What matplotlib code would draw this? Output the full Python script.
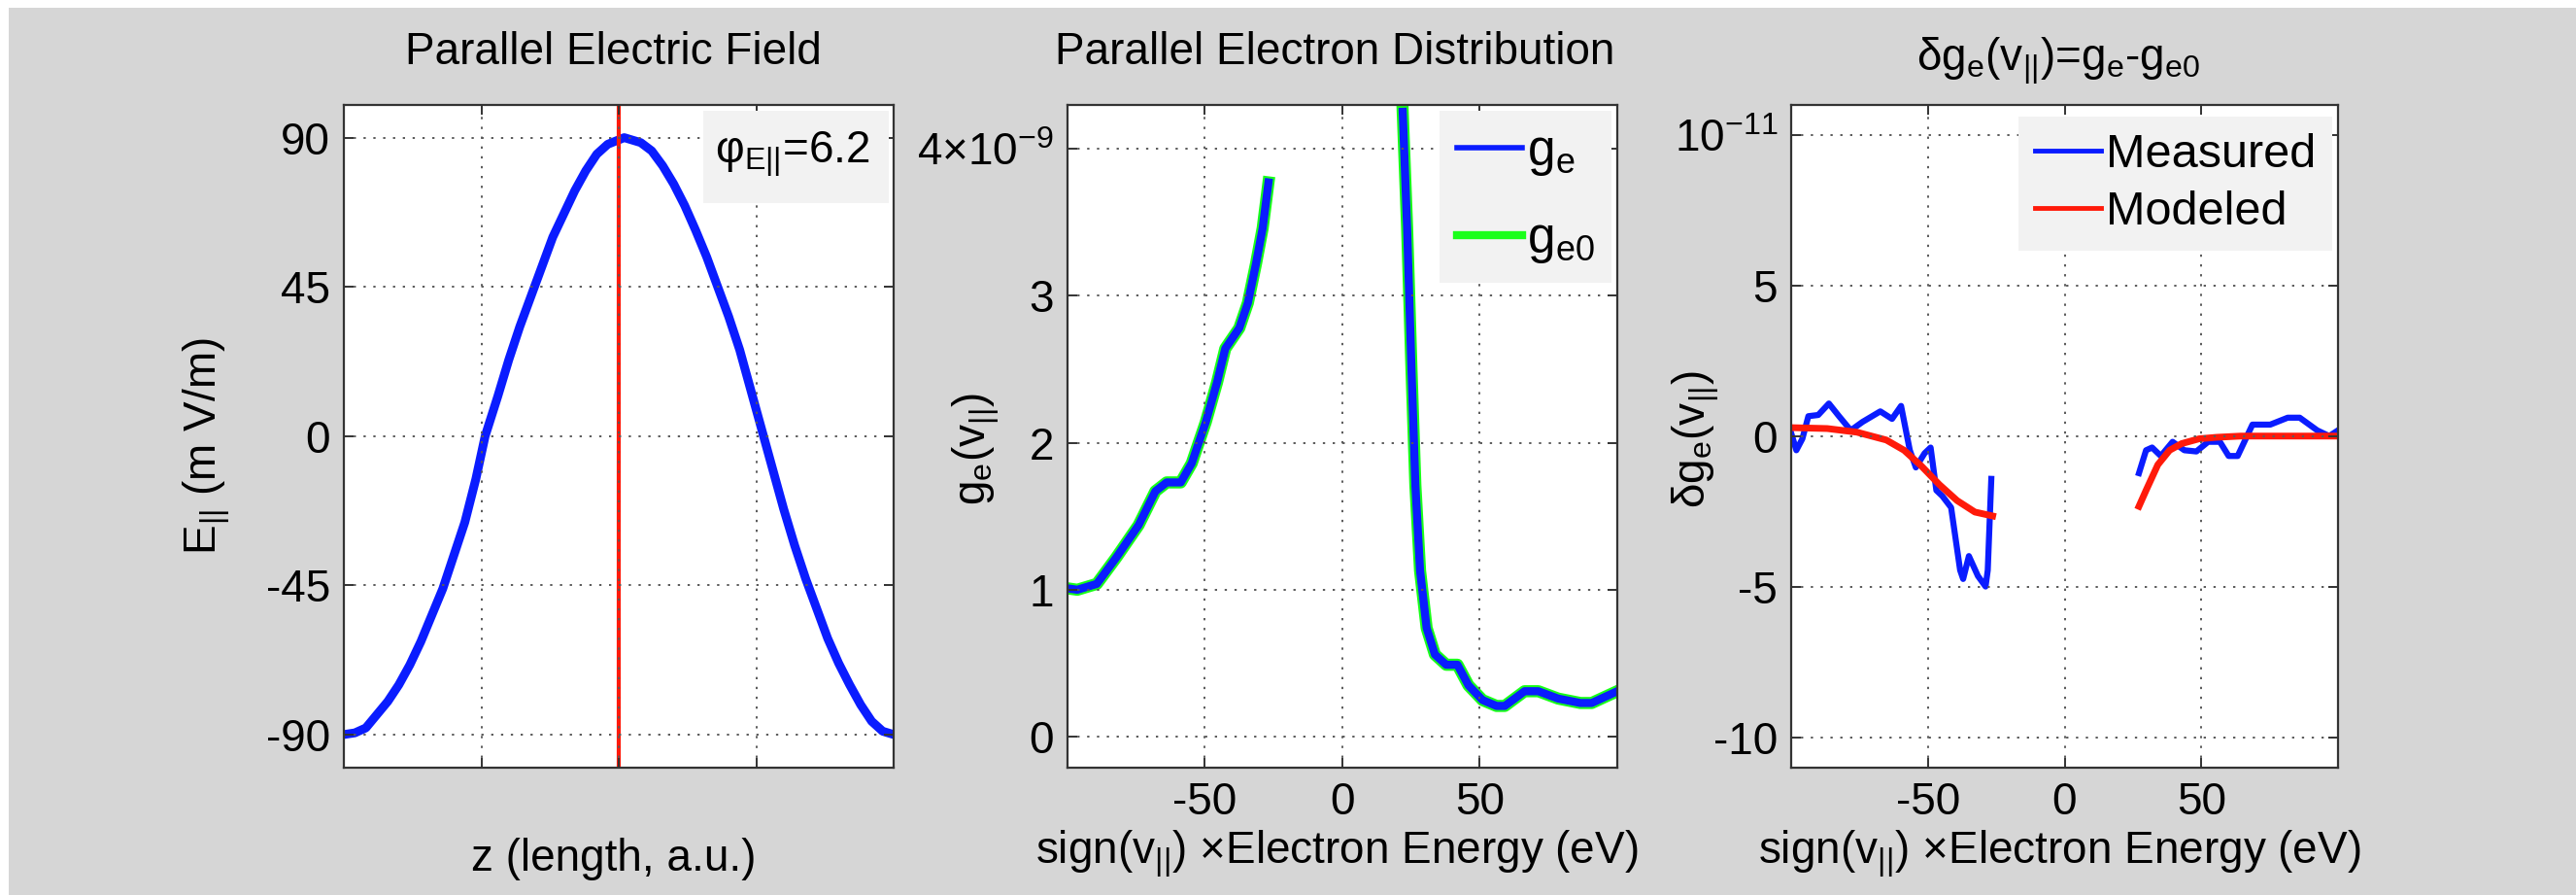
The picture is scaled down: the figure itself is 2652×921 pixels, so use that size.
import numpy as np
import matplotlib
matplotlib.use('Agg')
import matplotlib.pyplot as plt
from matplotlib.patches import Rectangle
from matplotlib.lines import Line2D

plt.rcParams['font.family'] = ['Liberation Sans', 'DejaVu Sans']
plt.rcParams['mathtext.default'] = 'regular'
plt.rcParams['axes.unicode_minus'] = False

# parallel electric field along the wave (arbitrary length units)
z_pos = [0, 0.02, 0.04, 0.06, 0.08, 0.10, 0.12, 0.14, 0.16, 0.18, 0.20, 0.22, 0.24,
         0.257, 0.28, 0.30, 0.32, 0.34, 0.36, 0.38, 0.40, 0.42, 0.44, 0.46, 0.48,
         0.51, 0.54, 0.56, 0.58, 0.60, 0.62, 0.64, 0.66, 0.68, 0.70, 0.72, 0.74,
         0.76, 0.78, 0.80, 0.82, 0.84, 0.86, 0.88, 0.90, 0.92, 0.94, 0.96, 0.98, 1.0]
e_par = [-90, -89.5, -88, -84, -80, -75, -69, -62, -54, -46, -36, -26, -13,
         0, 12, 23, 33, 42, 51, 60, 67, 74, 80, 85, 88,
         90, 88.5, 86, 81.5, 76, 69.5, 62, 54, 45, 36, 26, 14,
         2, -10, -22, -33, -43, -52, -61, -68.5, -75, -81, -86, -89, -90]
z_phase = 0.5
phi_label = r'$\varphi_{E||}$=6.2'

# reduced parallel distribution, negative and positive energy branches
en_neg = [-100, -96.3, -89.2, -82.1, -74, -67.9, -63.8, -58.7, -54.7, -49.6, -45.5,
          -42.5, -37.4, -34.3, -31.3, -28.9, -26.8]
ge_neg = [1.01, 1.0, 1.04, 1.22, 1.44, 1.67, 1.73, 1.73, 1.86, 2.14, 2.41,
          2.64, 2.78, 2.95, 3.22, 3.46, 3.77]
en_pos = [22, 23.6, 25.2, 26.6, 28.3, 30.7, 33.7, 37.8, 41.9, 45.9, 51, 56.1,
          59.1, 66.3, 71.3, 78.5, 86.6, 90.7, 100]
ge_pos = [4.25, 3.46, 2.49, 1.71, 1.13, 0.74, 0.56, 0.49, 0.49, 0.35, 0.25, 0.21,
          0.21, 0.31, 0.31, 0.26, 0.23, 0.23, 0.31]
ge0_neg = ge_neg
ge0_pos = ge_pos

# perturbation dg = g_e - g_e0, measured
dm_en_neg = [-100, -98.1, -95.9, -93.7, -90.1, -86.2, -82.5, -78.2, -73.9, -67.4,
             -63.1, -59.8, -56.6, -54.4, -51.2, -49, -46.9, -44.7, -41.5, -38.2,
             -37.1, -35, -31.7, -28.9, -28.1, -26.8]
dm_neg = [0.1, -0.47, -0.09, 0.66, 0.7, 1.08, 0.66, 0.19, 0.47, 0.82,
          0.57, 1.0, -0.47, -1.04, -0.57, -0.38, -1.8, -1.99, -2.37, -4.45,
          -4.74, -3.98, -4.64, -4.99, -4.45, -1.42]
dm_en_pos = [27.2, 29.8, 32, 35.2, 39.5, 43.8, 48.2, 52.5, 56.8, 60, 63.3, 68.7,
             75.2, 81.6, 86, 92.4, 96.8, 100]
dm_pos = [-1.23, -0.47, -0.38, -0.66, -0.19, -0.47, -0.51, -0.19, -0.19, -0.66,
          -0.66, 0.38, 0.38, 0.61, 0.61, 0.19, 0.0, 0.19]

# modeled perturbation
dmod_en_neg = [-100, -86.8, -76, -65.2, -58.7, -52.3, -45.8, -39.3, -32.8, -26.3]
dmod_neg = [0.28, 0.25, 0.13, -0.13, -0.47, -1.0, -1.61, -2.14, -2.52, -2.65]
dmod_en_pos = [27.2, 29.8, 34.1, 38.4, 42.8, 49.2, 55.7, 64.4, 100]
dmod_pos = [-2.33, -1.8, -0.95, -0.47, -0.25, -0.09, -0.04, 0.0, 0.0]

FS = 33
BLUE = '#0a1cff'
RED = '#ff1a0a'
GREEN = '#1aff1a'
W, H = 2652, 921
fig = plt.figure(figsize=(W / 100, H / 100), dpi=100, facecolor='white')
fig.patches.append(Rectangle((9 / W, 0), 1, (H - 8) / H, transform=fig.transFigure,
                             facecolor='#d6d6d6', edgecolor='none', zorder=-10))

bottom = (H - 790) / H
height = (790 - 107.5) / H
ax1 = fig.add_axes([354 / W, bottom, 566 / W, height])
ax2 = fig.add_axes([1098.6 / W, bottom, 566.4 / W, height])
ax3 = fig.add_axes([1844 / W, bottom, 563 / W, height])


def style(ax):
    ax.set_facecolor('white')
    for s in ax.spines.values():
        s.set_color('#333333')
        s.set_linewidth(1.6)
    ax.tick_params(direction='in', length=7, width=1.4, color='#333333',
                   top=True, right=True, labelsize=FS, pad=10)
    ax.grid(True, color='#5a5a5a', linestyle=(0, (1.2, 4)), linewidth=1.4)
    ax.set_axisbelow(False)


for ax in (ax1, ax2, ax3):
    style(ax)

# panel 1
ax1.plot(z_pos, e_par, color=BLUE, lw=6.5, solid_capstyle='round', solid_joinstyle='round')
ax1.axvline(z_phase, color=RED, lw=3)
ax1.set_xlim(0, 1)
ax1.set_ylim(-100, 100)
ax1.set_xticks([0.25, 0.5, 0.75])
ax1.set_xticklabels([])
ax1.set_yticks([-90, -45, 0, 45, 90])
ax1.set_yticklabels(['-90', '-45', '0', '45', '90'])
ax1.set_xlabel('z (length, a.u.)', fontsize=FS, va='center')
ax1.xaxis.set_label_coords(0.49, -0.138)
ax1.set_ylabel(r'$E_{||}$ (m V/m)', fontsize=FS, va='center')
ax1.yaxis.set_label_coords(-0.25, 0.485)
ax1.text(0.49, 1.078, 'Parallel Electric Field', transform=ax1.transAxes,
         fontsize=FS, ha='center', va='center')
ax1.add_patch(Rectangle((0.654, 0.852), 0.337, 0.138, transform=ax1.transAxes,
                        facecolor='#f2f2f2', edgecolor='none', zorder=3))
ax1.text(0.675, 0.925, phi_label, transform=ax1.transAxes, fontsize=FS,
         ha='left', va='center', zorder=4)

# panel 2
ge_scale = 1e-9
ax2.plot(en_neg, np.array(ge0_neg) * ge_scale, color=GREEN, lw=9, solid_joinstyle='round')
ax2.plot(en_pos, np.array(ge0_pos) * ge_scale, color=GREEN, lw=9, solid_joinstyle='round')
ax2.plot(en_neg, np.array(ge_neg) * ge_scale, color=BLUE, lw=6, solid_joinstyle='round')
ax2.plot(en_pos, np.array(ge_pos) * ge_scale, color=BLUE, lw=6, solid_joinstyle='round')
ax2.set_xlim(-100, 100)
ax2.set_ylim(-0.21e-9, 4.3e-9)
ax2.set_xticks([-50, 0, 50])
ax2.set_xticklabels(['-50', '0', '50'])
ax2.set_yticks(np.arange(5) * ge_scale)
ax2.set_yticklabels(['0', '1', '2', '3', r'4$\times$10$^{-9}$'])
ax2.set_xlabel(r'sign($v_{||}$) $\times$Electron Energy (eV)', fontsize=FS, va='center')
ax2.xaxis.set_label_coords(0.49, -0.13)
ax2.set_ylabel(r'$g_e$($v_{||}$)', fontsize=FS, va='center')
ax2.yaxis.set_label_coords(-0.165, 0.48)
ax2.text(0.486, 1.078, 'Parallel Electron Distribution', transform=ax2.transAxes,
         fontsize=FS, ha='center', va='center')
h2 = [Line2D([], [], color=BLUE, lw=4), Line2D([], [], color=GREEN, lw=6)]
ax2.legend(h2, [r'$g_e$', r'$g_{e0}$'], loc='upper right', bbox_to_anchor=(0.99, 0.99),
           borderaxespad=0, fontsize=FS + 4, frameon=True, fancybox=False,
           facecolor='#f2f2f2', edgecolor='none', framealpha=1,
           handlelength=1.3, handletextpad=0.1, labelspacing=0.75,
           borderpad=0.35)

# panel 3
d_scale = 1e-11
ax3.plot(dm_en_neg, np.array(dm_neg) * d_scale, color=BLUE, lw=4.5)
ax3.plot(dm_en_pos, np.array(dm_pos) * d_scale, color=BLUE, lw=4.5)
ax3.plot(dmod_en_neg, np.array(dmod_neg) * d_scale, color=RED, lw=5, solid_joinstyle='round')
ax3.plot(dmod_en_pos, np.array(dmod_pos) * d_scale, color=RED, lw=5, solid_joinstyle='round')
ax3.set_xlim(-100, 100)
ax3.set_ylim(-11e-11, 11e-11)
ax3.set_xticks([-50, 0, 50])
ax3.set_xticklabels(['-50', '0', '50'])
ax3.set_yticks(np.array([-10, -5, 0, 5, 10]) * d_scale)
ax3.set_yticklabels(['-10', '-5', '0', '5', r'10$^{-11}$'])
ax3.set_xlabel(r'sign($v_{||}$) $\times$Electron Energy (eV)', fontsize=FS, va='center')
ax3.xaxis.set_label_coords(0.49, -0.13)
ax3.set_ylabel(r'$\delta g_e$($v_{||}$)', fontsize=FS, va='center')
ax3.yaxis.set_label_coords(-0.175, 0.495)
ax3.text(0.488, 1.065, r'$\delta g_e$($v_{||}$)=$g_e$-$g_{e0}$', transform=ax3.transAxes,
         fontsize=FS, ha='center', va='center')
h3 = [Line2D([], [], color=BLUE, lw=3.5), Line2D([], [], color=RED, lw=3.5)]
ax3.legend(h3, ['Measured', 'Modeled'], loc='upper right', bbox_to_anchor=(0.99, 0.982),
           borderaxespad=0, fontsize=FS + 2, frameon=True, fancybox=False,
           facecolor='#f2f2f2', edgecolor='none', framealpha=1, handlelength=1.4,
           handletextpad=0.1, labelspacing=0.3, borderpad=0.35)

fig.savefig('out.png', dpi=100, facecolor=fig.get_facecolor())
